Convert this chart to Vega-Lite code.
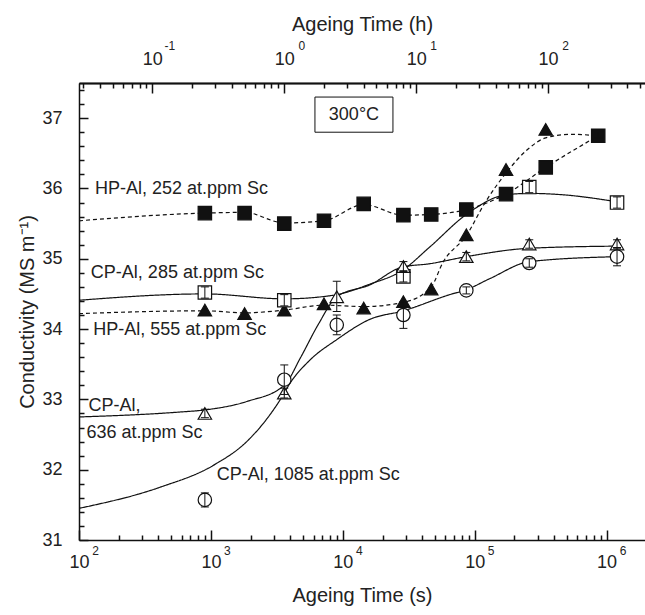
{
  "$schema": "https://vega.github.io/schema/vega-lite/v6.json",
  "width": 566,
  "height": 457,
  "autosize": {"type": "none"},
  "padding": {"left": 79, "top": 83, "right": 0, "bottom": 75},
  "background": "white",
  "config": {
    "view": {"stroke": null},
    "axis": {
      "grid": false,
      "zindex": 1,
      "domainColor": "#111",
      "domainWidth": 1.5,
      "tickColor": "#111",
      "tickWidth": 1.5,
      "labelColor": "#222",
      "titleColor": "#222",
      "labelFont": "Liberation Sans",
      "titleFont": "Liberation Sans",
      "titleFontWeight": "normal",
      "labelFontSize": 18,
      "titleFontSize": 20,
      "labelFlush": false
    }
  },
  "datasets": {
    "pts": [
      {"s": "HP252", "t": 900, "v": 35.65},
      {"s": "HP252", "t": 1800, "v": 35.65},
      {"s": "HP252", "t": 3600, "v": 35.50},
      {"s": "HP252", "t": 7200, "v": 35.54},
      {"s": "HP252", "t": 14400, "v": 35.78},
      {"s": "HP252", "t": 28800, "v": 35.62},
      {"s": "HP252", "t": 46800, "v": 35.63},
      {"s": "HP252", "t": 86400, "v": 35.70},
      {"s": "HP252", "t": 172800, "v": 35.92},
      {"s": "HP252", "t": 345600, "v": 36.30},
      {"s": "HP252", "t": 864000, "v": 36.75, "lo": 36.72, "hi": 36.81},
      {"s": "HP555", "t": 900, "v": 34.27},
      {"s": "HP555", "t": 1800, "v": 34.22},
      {"s": "HP555", "t": 3600, "v": 34.27},
      {"s": "HP555", "t": 7200, "v": 34.36},
      {"s": "HP555", "t": 14400, "v": 34.30},
      {"s": "HP555", "t": 28800, "v": 34.39},
      {"s": "HP555", "t": 46800, "v": 34.57},
      {"s": "HP555", "t": 86400, "v": 35.34},
      {"s": "HP555", "t": 172800, "v": 36.27},
      {"s": "HP555", "t": 345600, "v": 36.84},
      {"s": "CP285", "t": 900, "v": 34.52, "lo": 34.44, "hi": 34.60},
      {"s": "CP285", "t": 3600, "v": 34.41, "lo": 34.33, "hi": 34.49},
      {"s": "CP285", "t": 28800, "v": 34.75, "lo": 34.67, "hi": 34.83},
      {"s": "CP285", "t": 259200, "v": 36.02, "lo": 35.94, "hi": 36.10},
      {"s": "CP285", "t": 1200000, "v": 35.80, "lo": 35.72, "hi": 35.88},
      {"s": "CP636", "t": 900, "v": 32.80, "lo": 32.74, "hi": 32.86},
      {"s": "CP636", "t": 3600, "v": 33.09, "lo": 33.02, "hi": 33.16},
      {"s": "CP636", "t": 9000, "v": 34.46, "lo": 34.25, "hi": 34.68},
      {"s": "CP636", "t": 28800, "v": 34.89, "lo": 34.82, "hi": 34.96},
      {"s": "CP636", "t": 86400, "v": 35.03, "lo": 34.97, "hi": 35.09},
      {"s": "CP636", "t": 259200, "v": 35.21, "lo": 35.15, "hi": 35.27},
      {"s": "CP636", "t": 1200000, "v": 35.21, "lo": 35.15, "hi": 35.27},
      {"s": "CP1085", "t": 900, "v": 31.57, "lo": 31.47, "hi": 31.67},
      {"s": "CP1085", "t": 3600, "v": 33.28, "lo": 33.07, "hi": 33.49},
      {"s": "CP1085", "t": 9000, "v": 34.06, "lo": 33.92, "hi": 34.20},
      {"s": "CP1085", "t": 28800, "v": 34.20, "lo": 34.01, "hi": 34.39},
      {"s": "CP1085", "t": 86400, "v": 34.55, "lo": 34.50, "hi": 34.60},
      {"s": "CP1085", "t": 259200, "v": 34.94, "lo": 34.88, "hi": 35.00},
      {"s": "CP1085", "t": 1200000, "v": 35.03, "lo": 34.90, "hi": 35.16}
    ],
    "curves": [
      {"s": "HP252", "t": 100, "v": 35.54},
      {"s": "HP252", "t": 900, "v": 35.65},
      {"s": "HP252", "t": 1800, "v": 35.66},
      {"s": "HP252", "t": 3600, "v": 35.51},
      {"s": "HP252", "t": 7200, "v": 35.54},
      {"s": "HP252", "t": 14400, "v": 35.77},
      {"s": "HP252", "t": 28800, "v": 35.62},
      {"s": "HP252", "t": 46800, "v": 35.63},
      {"s": "HP252", "t": 86400, "v": 35.70},
      {"s": "HP252", "t": 172800, "v": 35.92},
      {"s": "HP252", "t": 345600, "v": 36.30},
      {"s": "HP252", "t": 864000, "v": 36.75},
      {"s": "HP555", "t": 100, "v": 34.22},
      {"s": "HP555", "t": 900, "v": 34.26},
      {"s": "HP555", "t": 1800, "v": 34.23},
      {"s": "HP555", "t": 3600, "v": 34.27},
      {"s": "HP555", "t": 7200, "v": 34.34},
      {"s": "HP555", "t": 14400, "v": 34.32},
      {"s": "HP555", "t": 28800, "v": 34.38},
      {"s": "HP555", "t": 46800, "v": 34.60},
      {"s": "HP555", "t": 57500, "v": 34.95},
      {"s": "HP555", "t": 86400, "v": 35.33},
      {"s": "HP555", "t": 120000, "v": 35.80},
      {"s": "HP555", "t": 172800, "v": 36.22},
      {"s": "HP555", "t": 250000, "v": 36.55},
      {"s": "HP555", "t": 345600, "v": 36.72},
      {"s": "HP555", "t": 540000, "v": 36.77},
      {"s": "HP555", "t": 864000, "v": 36.75},
      {"s": "CP285", "t": 100, "v": 34.41},
      {"s": "CP285", "t": 900, "v": 34.50},
      {"s": "CP285", "t": 3600, "v": 34.43},
      {"s": "CP285", "t": 8400, "v": 34.48},
      {"s": "CP285", "t": 16100, "v": 34.64},
      {"s": "CP285", "t": 28000, "v": 34.83},
      {"s": "CP285", "t": 45800, "v": 35.17},
      {"s": "CP285", "t": 86400, "v": 35.63},
      {"s": "CP285", "t": 172800, "v": 35.91},
      {"s": "CP285", "t": 262000, "v": 35.93},
      {"s": "CP285", "t": 467000, "v": 35.91},
      {"s": "CP285", "t": 1200000, "v": 35.81},
      {"s": "CP636", "t": 100, "v": 32.75},
      {"s": "CP636", "t": 580, "v": 32.82},
      {"s": "CP636", "t": 900, "v": 32.85},
      {"s": "CP636", "t": 1870, "v": 32.97},
      {"s": "CP636", "t": 3600, "v": 33.20},
      {"s": "CP636", "t": 4800, "v": 33.60},
      {"s": "CP636", "t": 6490, "v": 34.06},
      {"s": "CP636", "t": 9000, "v": 34.46},
      {"s": "CP636", "t": 16100, "v": 34.63},
      {"s": "CP636", "t": 28000, "v": 34.88},
      {"s": "CP636", "t": 45800, "v": 34.93},
      {"s": "CP636", "t": 86400, "v": 35.03},
      {"s": "CP636", "t": 262000, "v": 35.15},
      {"s": "CP636", "t": 1200000, "v": 35.18},
      {"s": "CP1085", "t": 100, "v": 31.45},
      {"s": "CP1085", "t": 411, "v": 31.75},
      {"s": "CP1085", "t": 1040, "v": 32.06},
      {"s": "CP1085", "t": 1870, "v": 32.40},
      {"s": "CP1085", "t": 2500, "v": 32.66},
      {"s": "CP1085", "t": 3340, "v": 32.99},
      {"s": "CP1085", "t": 3980, "v": 33.23},
      {"s": "CP1085", "t": 5640, "v": 33.56},
      {"s": "CP1085", "t": 9000, "v": 33.85},
      {"s": "CP1085", "t": 16100, "v": 34.14},
      {"s": "CP1085", "t": 28800, "v": 34.26},
      {"s": "CP1085", "t": 64700, "v": 34.49},
      {"s": "CP1085", "t": 86400, "v": 34.56},
      {"s": "CP1085", "t": 131000, "v": 34.72},
      {"s": "CP1085", "t": 262000, "v": 34.96},
      {"s": "CP1085", "t": 1200000, "v": 35.03}
    ],
    "labels": [
      {"label": "HP-Al, 252 at.ppm Sc", "t": 132, "v": 35.99},
      {"label": "CP-Al, 285 at.ppm Sc", "t": 123, "v": 34.80},
      {"label": "HP-Al, 555 at.ppm Sc", "t": 128, "v": 33.99},
      {"label": "CP-Al,", "t": 118, "v": 32.90},
      {"label": "636 at.ppm Sc", "t": 114, "v": 32.52},
      {"label": "CP-Al, 1085 at.ppm Sc", "t": 1107, "v": 31.93}
    ],
    "box": [{"t1": 6150, "t2": 24000, "v1": 36.80, "v2": 37.30, "tc": 12150, "vc": 37.05, "label": "300°C"}]
  },
  "resolve": {"axis": {"x": "independent", "y": "independent"}},
  "layer": [
    {
      "data": {"name": "curves"},
      "mark": {"type": "line", "interpolate": "monotone", "strokeWidth": 1.2, "color": "#111"},
      "encoding": {
        "x": {"field": "t", "type": "quantitative", "scale": {"type": "log", "domain": [100, 1955000], "nice": false},
          "axis": {"orient": "bottom", "values": [100, 1000, 10000, 100000, 1000000], "labelExpr": "'10'", "domain": true, "ticks": true, "tickSize": -10, "labelPadding": 23, "title": "Ageing Time (s)", "titlePadding": 14}},
        "y": {"field": "v", "type": "quantitative", "scale": {"domain": [31, 37.5], "nice": false, "zero": false},
          "axis": {"orient": "left", "values": [31, 32, 33, 34, 35, 36, 37], "domain": true, "ticks": true, "tickSize": -9, "labelPadding": 26, "title": "Conductivity (MS m⁻¹)", "titlePadding": 4}},
        "detail": {"field": "s"},
        "strokeDash": {"field": "s", "type": "nominal", "scale": {"domain": ["HP252", "CP285", "HP555", "CP636", "CP1085"], "range": [[4, 3], [1, 0], [4, 3], [1, 0], [1, 0]]}, "legend": null}
      }
    },
    {
      "data": {"name": "pts"},
      "mark": {"type": "point", "filled": true, "stroke": "#111", "strokeWidth": 1.2, "opacity": 1, "strokeOpacity": 1},
      "encoding": {
        "x": {"field": "t", "type": "quantitative", "scale": {"type": "log", "domain": [100, 1955000], "nice": false},
          "axis": {"orient": "bottom", "values": [200, 300, 400, 500, 600, 700, 800, 900, 2000, 3000, 4000, 5000, 6000, 7000, 8000, 9000, 20000, 30000, 40000, 50000, 60000, 70000, 80000, 90000, 200000, 300000, 400000, 500000, 600000, 700000, 800000, 900000], "labels": false, "ticks": true, "tickSize": -5, "domain": false, "title": null}},
        "y": {"field": "v", "type": "quantitative", "scale": {"domain": [31, 37.5], "nice": false, "zero": false},
          "axis": {"orient": "left", "values": [31.2, 31.4, 31.6, 31.8, 32.2, 32.4, 32.6, 32.8, 33.2, 33.4, 33.6, 33.8, 34.2, 34.4, 34.6, 34.8, 35.2, 35.4, 35.6, 35.8, 36.2, 36.4, 36.6, 36.8, 37.2, 37.4], "labels": false, "ticks": true, "tickSize": -5, "domain": false, "title": null}},
        "fill": {"field": "s", "type": "nominal", "scale": {"domain": ["HP252", "CP285", "HP555", "CP636", "CP1085"], "range": ["#111", "white", "#111", "white", "white"]}, "legend": null},
        "shape": {"field": "s", "type": "nominal", "scale": {"domain": ["HP252", "CP285", "HP555", "CP636", "CP1085"], "range": ["square", "square", "triangle-up", "triangle-up", "circle"]}, "legend": null},
        "size": {"field": "s", "type": "nominal", "scale": {"domain": ["HP252", "CP285", "HP555", "CP636", "CP1085"], "range": [180, 180, 400, 400, 190]}, "legend": null}
      }
    },
    {
      "data": {"name": "pts"},
      "transform": [{"filter": {"field": "lo", "valid": true}}],
      "mark": {"type": "rule", "strokeWidth": 1, "color": "#111"},
      "encoding": {
        "x": {"field": "t", "type": "quantitative", "scale": {"type": "log", "domain": [100, 1955000], "nice": false},
          "axis": {"orient": "bottom", "values": [100, 1000, 10000, 100000, 1000000], "labelExpr": "'' + round(log(datum.value) / LN10)", "labelFontSize": 12, "labelOffset": 16, "ticks": false, "domain": false, "labelPadding": 5, "title": null}},
        "y": {"field": "lo", "type": "quantitative", "scale": {"domain": [31, 37.5], "nice": false, "zero": false}, "axis": null},
        "y2": {"field": "hi"}
      }
    },
    {
      "data": {"name": "pts"},
      "transform": [{"filter": {"field": "lo", "valid": true}}],
      "mark": {"type": "tick", "orient": "horizontal", "size": 8, "thickness": 1, "color": "#111", "opacity": 1},
      "encoding": {
        "x": {"field": "t", "type": "quantitative", "scale": {"type": "log", "domain": [100, 1955000], "nice": false},
          "axis": {"orient": "top", "values": [360, 3600, 36000, 360000], "labelExpr": "datum.value < 1000 ? '-1' : datum.value < 10000 ? '0' : datum.value < 100000 ? '1' : '2'", "labelFontSize": 12, "labelOffset": 17, "ticks": false, "domain": false, "labelPadding": 31, "title": null}},
        "y": {"field": "lo", "type": "quantitative", "scale": {"domain": [31, 37.5], "nice": false, "zero": false}, "axis": null}
      }
    },
    {
      "data": {"name": "pts"},
      "transform": [{"filter": {"field": "lo", "valid": true}}],
      "mark": {"type": "tick", "orient": "horizontal", "size": 8, "thickness": 1, "color": "#111", "opacity": 1},
      "encoding": {
        "x": {"field": "t", "type": "quantitative", "scale": {"type": "log", "domain": [100, 1955000], "nice": false},
          "axis": {"orient": "top", "values": [108, 144, 180, 216, 252, 288, 324, 720, 1080, 1440, 1800, 2160, 2520, 2880, 3240, 7200, 10800, 14400, 18000, 21600, 25200, 28800, 32400, 72000, 108000, 144000, 180000, 216000, 252000, 288000, 324000, 720000, 1080000, 1440000, 1800000], "labels": false, "ticks": true, "tickSize": -5, "domain": true, "title": null}},
        "y": {"field": "hi", "type": "quantitative", "scale": {"domain": [31, 37.5], "nice": false, "zero": false}, "axis": null}
      }
    },
    {
      "data": {"name": "labels"},
      "mark": {"type": "text", "align": "left", "baseline": "middle", "font": "Liberation Sans", "fontSize": 18, "color": "#222"},
      "encoding": {
        "x": {"field": "t", "type": "quantitative", "scale": {"type": "log", "domain": [100, 1955000], "nice": false},
          "axis": {"orient": "top", "values": [360, 3600, 36000, 360000], "labelExpr": "'10'", "domain": true, "ticks": true, "tickSize": -10, "labelPadding": 25, "title": "Ageing Time (h)", "titlePadding": 16}},
        "y": {"field": "v", "type": "quantitative", "scale": {"domain": [31, 37.5], "nice": false, "zero": false}, "axis": null},
        "text": {"field": "label"}
      }
    },
    {
      "data": {"name": "box"},
      "mark": {"type": "rect", "fill": "white", "fillOpacity": 0, "stroke": "#111", "strokeWidth": 1},
      "encoding": {
        "x": {"field": "t1", "type": "quantitative", "scale": {"type": "log", "domain": [100, 1955000], "nice": false},
          "axis": {"orient": "top", "values": [360, 3600, 36000, 360000], "labels": false, "ticks": false, "domain": true, "title": null}},
        "x2": {"field": "t2"},
        "y": {"field": "v1", "type": "quantitative", "scale": {"domain": [31, 37.5], "nice": false, "zero": false}, "axis": null},
        "y2": {"field": "v2"}
      }
    },
    {
      "data": {"name": "box"},
      "mark": {"type": "text", "align": "center", "baseline": "middle", "font": "Liberation Sans", "fontSize": 18, "color": "#222"},
      "encoding": {
        "x": {"field": "tc", "type": "quantitative", "scale": {"type": "log", "domain": [100, 1955000], "nice": false}, "axis": null},
        "y": {"field": "vc", "type": "quantitative", "scale": {"domain": [31, 37.5], "nice": false, "zero": false}, "axis": null},
        "text": {"field": "label"}
      }
    }
  ]
}
